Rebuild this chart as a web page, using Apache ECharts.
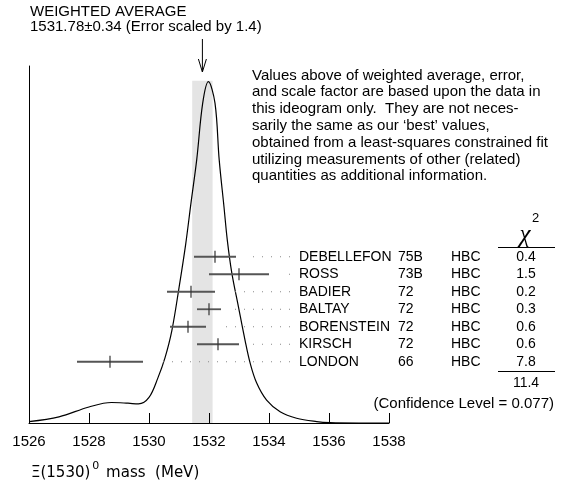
<!DOCTYPE html>
<html>
<head>
<meta charset="utf-8">
<script src="https://cdn.jsdelivr.net/npm/echarts@6/dist/echarts.min.js"></script>
<style>
  html, body { margin: 0; padding: 0; background: #fff; }
  #chart { width: 565px; height: 487px; }
</style>
</head>
<body>
<div id="chart"></div>
<script>
// ideogram curve (height in % of the peak)
const ideoX = [1526.0, 1527.0, 1528.0, 1528.75, 1529.3, 1529.65, 1530.0, 1530.3, 1530.53, 1530.76, 1531.0, 1531.22,
  1531.4, 1531.59, 1531.79, 1531.98, 1532.2, 1532.34, 1532.5, 1532.61, 1532.76, 1532.98, 1533.2, 1533.37,
  1533.59, 1533.92, 1534.37, 1534.92, 1535.59, 1536.03, 1537.0, 1538.0]
const ideoY = [0.4, 1.8, 4.7, 6.0, 5.8, 5.6, 7.5, 13.3, 19.0, 27.0, 39.6, 52.2,
  64.5, 77.1, 93.7, 100, 93.7, 77.1, 63.3, 53.6, 44.0, 34.1, 24.3, 17.6,
  11.7, 6.7, 3.3, 1.4, 0.4, 0.1, 0, 0]

// measurements
const names = ['DEBELLEFON', 'ROSS', 'BADIER', 'BALTAY', 'BORENSTEIN', 'KIRSCH', 'LONDON']
const years = ['75B', '73B', '72', '72', '72', '72', '66']
const techs = ['HBC', 'HBC', 'HBC', 'HBC', 'HBC', 'HBC', 'HBC']
const values = [1532.2, 1533.0, 1531.4, 1532.0, 1531.3, 1532.3, 1528.7]
const errors = [0.7, 1.0, 0.8, 0.4, 0.6, 0.7, 1.1]
const chi2 = ['0.4', '1.5', '0.2', '0.3', '0.6', '0.6', '7.8']

const xTicks = [1526, 1528, 1530, 1532, 1534, 1536, 1538]
const average = 1531.78
const averageErr = 0.34
const errScale = 1.4
const chi2Sum = '11.4'
const confLevel = '0.077'

const FONT = '"Liberation Sans", Arial, sans-serif'
const chartDom = echarts.init(document.getElementById('chart'))

function renderRow (params, api) {
  const i = params.dataIndex
  const c = api.value(0)
  const e = api.value(1)
  const row = api.value(2)
  const lo = api.coord([c - e, row])
  const hi = api.coord([c + e, row])
  const mid = api.coord([c, row])
  const y = mid[1]
  const textStyle = (text, x, align) => ({
    type: 'text',
    x: x,
    y: y,
    style: { text: text, font: '14px ' + FONT, fill: '#000', textAlign: align, textVerticalAlign: 'middle' }
  })
  return {
    type: 'group',
    children: [
      { type: 'line', shape: { x1: 290, y1: y, x2: hi[0] + 12, y2: y }, style: { stroke: '#888', lineWidth: 1, lineDash: [1, 8] } },
      { type: 'line', shape: { x1: lo[0], y1: y, x2: hi[0], y2: y }, style: { stroke: '#555', lineWidth: 1.8 } },
      { type: 'line', shape: { x1: mid[0], y1: y - 6, x2: mid[0], y2: y + 6 }, style: { stroke: '#333', lineWidth: 1.2 } },
      textStyle(names[i], 299, 'left'),
      textStyle(years[i], 398, 'left'),
      textStyle(techs[i], 451, 'left'),
      textStyle(chi2[i], 526, 'center')
    ]
  }
}

function renderArrow (params, api) {
  const p = api.coord([api.value(0), 0])
  const top = params.coordSys.y
  return {
    type: 'group',
    children: [
      { type: 'line', shape: { x1: p[0], y1: top - 27, x2: p[0], y2: top + 6 }, style: { stroke: '#000', lineWidth: 1 } },
      { type: 'polyline', shape: { points: [[p[0] - 4, top - 7], [p[0], top + 6], [p[0] + 4, top - 7]] }, style: { stroke: '#000', lineWidth: 1, fill: null } }
    ]
  }
}

const paragraph = [
  'Values above of weighted average, error,',
  'and scale factor are based upon the data in',
  'this ideogram only.  They are not neces-',
  'sarily the same as our \u2018best\u2019 values,',
  'obtained from a least-squares constrained fit',
  'utilizing measurements of other (related)',
  'quantities as additional information.'
].join('\n')

const option = {
  animation: false,
  grid: { left: 29, right: 176, top: 66, bottom: 64 },
  xAxis: {
    type: 'value',
    min: 1526,
    max: 1538,
    interval: 2,
    z: 5,
    axisLine: { lineStyle: { color: '#000', width: 1 } },
    axisTick: { inside: true, length: 10, lineStyle: { color: '#000' } },
    axisLabel: {
      margin: 11,
      color: '#000',
      fontSize: 15,
      fontFamily: FONT,
      formatter: (v) => xTicks.includes(v) ? String(v) : ''
    },
    splitLine: { show: false }
  },
  yAxis: [
    {
      type: 'value',
      min: 0,
      max: 104.6,
      axisLine: { show: true, lineStyle: { color: '#000', width: 1 } },
      axisTick: { show: false },
      axisLabel: { show: false },
      splitLine: { show: false }
    },
    {
      type: 'value',
      show: false,
      inverse: true,
      min: -10.9,
      max: 9.5
    }
  ],
  series: [
    {
      type: 'line',
      z: 1,
      data: [],
      markArea: {
        silent: true,
        itemStyle: { color: '#e4e4e4' },
        data: [[{ coord: [average - averageErr, 0] }, { coord: [average + averageErr, 100.3] }]]
      }
    },
    {
      type: 'line',
      z: 3,
      smooth: 0.35,
      showSymbol: false,
      lineStyle: { color: '#000', width: 1.2 },
      data: ideoX.map((x, i) => [x, ideoY[i]])
    },
    {
      type: 'custom',
      z: 4,
      yAxisIndex: 1,
      renderItem: renderRow,
      data: values.map((v, i) => [v, errors[i], i])
    },
    {
      type: 'custom',
      z: 4,
      renderItem: renderArrow,
      data: [[average]]
    }
  ],
  graphic: [
    { type: 'text', x: 30, y: 12, style: { text: 'WEIGHTED AVERAGE', font: '15px ' + FONT, fill: '#000', textVerticalAlign: 'middle' } },
    { type: 'text', x: 30, y: 27, style: { text: average.toFixed(2) + '\u00b1' + averageErr.toFixed(2) + ' (Error scaled by ' + errScale + ')', font: '15px ' + FONT, fill: '#000', textVerticalAlign: 'middle' } },
    { type: 'text', x: 252, y: 67, style: { text: paragraph, font: '15px ' + FONT, lineHeight: 16.8, fill: '#000' } },
    { type: 'text', x: 525, y: 235, style: { text: '\u03c7', font: 'italic 25px "Liberation Serif", serif', fill: '#000', textAlign: 'center', textVerticalAlign: 'middle' } },
    { type: 'text', x: 532, y: 218, style: { text: '2', font: '13px ' + FONT, fill: '#000', textVerticalAlign: 'middle' } },
    { type: 'line', shape: { x1: 498, y1: 247.5, x2: 555, y2: 247.5 }, style: { stroke: '#000', lineWidth: 1 } },
    { type: 'line', shape: { x1: 498, y1: 371.5, x2: 555, y2: 371.5 }, style: { stroke: '#000', lineWidth: 1 } },
    { type: 'text', x: 526, y: 383, style: { text: chi2Sum, font: '14px ' + FONT, fill: '#000', textAlign: 'center', textVerticalAlign: 'middle' } },
    { type: 'text', x: 554, y: 404, style: { text: '(Confidence Level = ' + confLevel + ')', font: '15px ' + FONT, fill: '#000', textAlign: 'right', textVerticalAlign: 'middle' } },
    {
      type: 'text',
      x: 31,
      y: 461,
      style: {
        text: '{m|\u039e(1530)}{s|0}{m| mass  (MeV)}',
        rich: {
          m: { fontSize: 15, fontFamily: '"DejaVu Sans", sans-serif', color: '#000', verticalAlign: 'bottom' },
          s: { fontSize: 11, fontFamily: '"DejaVu Sans", sans-serif', color: '#000', verticalAlign: 'top', padding: [0, 2, 9, 2] }
        }
      }
    }
  ]
}

chartDom.setOption(option)

window.onresize = () => {
  chartDom.resize()
}
</script>
</body>
</html>
